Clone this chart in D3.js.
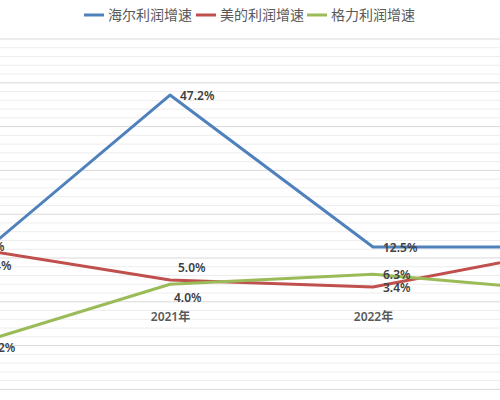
<!DOCTYPE html>
<html>
<head>
<meta charset="utf-8">
<script src="https://cdn.jsdelivr.net/npm/d3@7"></script>
<style>
  body { margin: 0; background: #fff; }
  svg { display: block; }
</style>
</head>
<body>
<div id="chart"></div>
<script>
// data
const years = ["2020年", "2021年", "2022年", "2023年"];
const haier = [8.2, 47.2, 12.5, 12.5];
const midea = [12.4, 5.0, 3.4, 12.2];
const gree = [-10.2, 4.0, 6.3, 2.3];
const seriesNames = ["海尔利润增速", "美的利润增速", "格力利润增速"];
const yTicks = [-20, -10, 0, 10, 20, 30, 40, 50, 60];

const width = 500, height = 400;
const colors = ["#4F81BD", "#C0504D", "#9BBB59"];

// label offsets per series / point (dx, dy from the point)
const labelOffsets = [
    [[10, -19], [10, 1], [10, 1], [10, 1]],
    [[10, 18], [8, -12], [10, 1], [10, 1]],
    [[10, 1], [4, 14], [10, 1], [10, 1]]
];

const svg = d3.select("#chart")
    .append("svg")
    .attr("width", width)
    .attr("height", height);

svg.append("rect")
    .attr("width", width)
    .attr("height", height)
    .attr("fill", "#fff");

// plot is wider than the picture, the outer categories are cut off
const x = d3.scalePoint()
    .domain(years)
    .range([-33, 576]);

const y = d3.scaleLinear()
    .domain([-20, 60])
    .range([389.4, 39]);

const visible = px => px > 0 && px < width;

// minor gridlines every 2%
const g = svg.append("g");
g.selectAll(".minor")
    .data(d3.range(-20, 61, 2).filter(v => v % 10 !== 0))
    .enter().append("line")
    .attr("class", "minor")
    .attr("x1", 0).attr("x2", width)
    .attr("y1", d => y(d)).attr("y2", d => y(d))
    .attr("stroke", "#EDEDED")
    .attr("stroke-width", 1);

// major gridlines
g.selectAll(".major")
    .data(yTicks)
    .enter().append("line")
    .attr("class", "major")
    .attr("x1", 0).attr("x2", width)
    .attr("y1", d => y(d)).attr("y2", d => y(d))
    .attr("stroke", "#D9D9D9")
    .attr("stroke-width", 1);

// category labels sit just under the zero line (only the ones in view)
const xAxis = d3.axisBottom(x)
    .tickValues(years.filter(yr => visible(x(yr))))
    .tickSize(0)
    .tickPadding(11);
const ax = svg.append("g")
    .attr("transform", `translate(0,${y(0)})`)
    .call(xAxis);
ax.select(".domain").remove();
ax.selectAll("text")
    .style("font-family", "'Noto Sans', 'Noto Sans CJK SC', sans-serif")
    .style("font-size", "12px")
    .style("font-weight", "600")
    .attr("fill", "#595959");

const allSeries = [haier, midea, gree];

const line = d3.line()
    .x((d, i) => x(years[i]))
    .y(d => y(d));

allSeries.forEach((s, si) => {
    svg.append("path")
        .datum(s)
        .attr("fill", "none")
        .attr("stroke", colors[si])
        .attr("stroke-width", 3)
        .attr("stroke-linejoin", "round")
        .attr("d", line);
});

// data labels (the last category lies outside the picture)
allSeries.forEach((s, si) => {
    svg.append("g")
        .selectAll("text")
        .data(s.map((v, i) => ({ v, i })).filter(d => x(years[d.i]) < width))
        .enter().append("text")
        .attr("x", d => x(years[d.i]) + labelOffsets[si][d.i][0])
        .attr("y", d => y(d.v) + labelOffsets[si][d.i][1])
        .attr("dy", "0.35em")
        .style("font-family", "'Noto Sans', sans-serif")
        .style("font-size", "12px")
        .style("font-weight", "600")
        .attr("fill", "#404040")
        .text(d => d.v.toFixed(1) + "%");
});

// legend
const legend = svg.append("g").attr("transform", "translate(84,15)");
const legendX = [0, 112, 223];
seriesNames.forEach((name, i) => {
    const item = legend.append("g").attr("transform", `translate(${legendX[i]},0)`);
    item.append("line")
        .attr("x1", 0).attr("x2", 20)
        .attr("y1", 0).attr("y2", 0)
        .attr("stroke", colors[i])
        .attr("stroke-width", 3);
    item.append("text")
        .attr("x", 24)
        .attr("dy", "0.35em")
        .style("font-family", "'Noto Sans CJK SC', sans-serif")
        .style("font-size", "14px")
        .attr("fill", "#595959")
        .text(name);
});
</script>
</body>
</html>
